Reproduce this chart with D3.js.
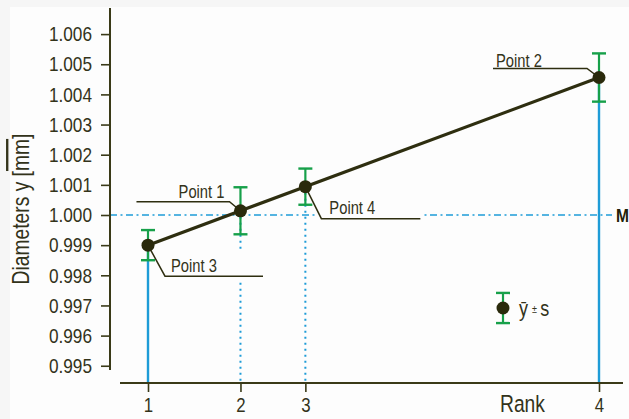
<!DOCTYPE html>
<html><head><meta charset="utf-8">
<script src="https://cdn.jsdelivr.net/npm/d3@7"></script>
<style>
html,body{margin:0;padding:0;background:#f6f6f6;}
svg{display:block;}
text{font-family:"Liberation Sans Narrow","Arial Narrow","Liberation Sans",Arial,sans-serif;fill:#33331a;}
</style></head>
<body>
<svg id="chart" width="629" height="419"></svg>
<script>
// ---- data ----
const pointNames = ["Point 3", "Point 1", "Point 4", "Point 2"];
const ranks = [1, 2, 3, 4];
const means = [0.99900, 1.00014, 1.00094, 1.00456];
const sds = [0.00050, 0.00078, 0.00060, 0.00080];
const yTicks = [0.995, 0.996, 0.997, 0.998, 0.999, 1.000, 1.001, 1.002, 1.003, 1.004, 1.005, 1.006];
const meanLevel = 1.000;
const legendSd = 0.00050;
const yLabel = "Diameters y [";
const yUnit = "mm";
const xLabel = "Rank";

// ---- layout ----
const W = 629, H = 419;
const K = 0.82; // horizontal condensing of text (narrow face emulation)
const svg = d3.select("#chart");
const colAxis = "#3a3a18", colLine = "#2e2e10", colGreen = "#17a04a", colBlue = "#1e9cd7";
const y = d3.scaleLinear().domain([0.995, 1.006]).range([365.75, 34.1]);
const x = d3.scaleLinear().domain([0.999, 1.00456]).range([148, 599]);
const axisX0 = 110, axisY0 = 383;
const yAxisTop = 8, yAxisBottom = 370;
const xAxisLeft = 120, xAxisRight = 623;
const labelLayout = {
  "Point 3": {ex: 17, ey: 31, hx: 115, tx: 23, ty: 26.7, anchor: "start"},
  "Point 1": {ex: -11, ey: -9, hx: -104, tx: -16, ty: -13, anchor: "end"},
  "Point 4": {ex: 16, ey: 32, hx: 115, tx: 24, ty: 27.6, anchor: "start"},
  "Point 2": {ex: -12, ey: -9, hx: -106, tx: -103, ty: -11, anchor: "start"}
};

function narrow(sel) {
  sel.each(function () {
    const t = d3.select(this);
    const x0 = +t.attr("x") || 0;
    const tr = t.attr("transform") || "";
    t.attr("x", x0 / K).attr("transform", (tr + ` scale(${K},1)`).trim());
  });
  return sel;
}

const data = pointNames.map((n, i) => ({name: n, rank: ranks[i], mean: means[i], sd: sds[i]}));

// background panel
svg.append("rect").attr("x", 10).attr("y", 7).attr("width", W - 10).attr("height", H - 7).attr("fill", "#fdfdfd");

// mean line
svg.append("line")
  .attr("x1", axisX0).attr("x2", 612)
  .attr("y1", y(meanLevel)).attr("y2", y(meanLevel))
  .attr("stroke", colBlue).attr("stroke-width", 1.6)
  .attr("stroke-dasharray", "7,3.5,2,3.5");
narrow(svg.append("text").attr("x", 616).attr("y", y(meanLevel)).attr("dy", "0.35em")
  .attr("font-size", 19).attr("font-weight", "bold").style("fill", "#222208").text("M"));

// vertical drop lines
data.forEach((d, i) => {
  const solid = (i === 0 || i === data.length - 1);
  svg.append("line")
    .attr("x1", x(d.mean)).attr("x2", x(d.mean))
    .attr("y1", y(d.mean)).attr("y2", axisY0)
    .attr("stroke", colBlue)
    .attr("stroke-width", solid ? 2.4 : 2)
    .attr("stroke-dasharray", solid ? null : "2,4");
});

// point labels (with white backgrounds)
data.forEach(d => {
  const L = labelLayout[d.name];
  const px = x(d.mean), py = y(d.mean);
  const g = svg.append("g");
  const bg = g.append("rect").attr("fill", "#fdfdfd");
  const t = g.append("text")
    .attr("x", px + L.tx).attr("y", py + L.ty)
    .attr("text-anchor", L.anchor).attr("font-size", 18).text(d.name);
  narrow(t);
  const ex = px + L.ex, ey = py + L.ey, hx = px + L.hx;
  const bb = t.node().getBBox();
  const bx0 = bb.x * K, bx1 = (bb.x + bb.width) * K;
  const x0 = Math.min(ex, hx, bx0), x1 = Math.max(ex, hx, bx1);
  const y0 = Math.min(bb.y, ey), y1 = Math.max(bb.y + bb.height, ey);
  bg.attr("x", x0 - 4).attr("y", y0 - 6).attr("width", x1 - x0 + 6).attr("height", y1 - y0 + 9);
  g.append("polyline")
    .attr("points", [[px, py], [ex, ey], [hx, ey]].map(p => p.join(",")).join(" "))
    .attr("fill", "none").attr("stroke", colLine).attr("stroke-width", 1.5);
});

// regression line
svg.append("path")
  .datum([data[0], data[data.length - 1]])
  .attr("d", d3.line().x(d => x(d.mean)).y(d => y(d.mean)))
  .attr("fill", "none").attr("stroke", colLine).attr("stroke-width", 3.2);

// error bars
function errorBar(g, cx, m, s) {
  g.append("line").attr("x1", cx).attr("x2", cx).attr("y1", y(m + s)).attr("y2", y(m - s))
    .attr("stroke", colGreen).attr("stroke-width", 2.2);
  [m + s, m - s].forEach(v => g.append("line")
    .attr("x1", cx - 7).attr("x2", cx + 7).attr("y1", y(v)).attr("y2", y(v))
    .attr("stroke", colGreen).attr("stroke-width", 2.4));
}
data.forEach(d => errorBar(svg, x(d.mean), d.mean, d.sd));

// points
svg.selectAll("circle.pt").data(data).enter().append("circle")
  .attr("class", "pt")
  .attr("cx", d => x(d.mean)).attr("cy", d => y(d.mean)).attr("r", 6.5)
  .attr("fill", "#2a2a0c");

// y axis
const gy = svg.append("g").attr("transform", `translate(${axisX0},0)`)
  .call(d3.axisLeft(y).tickValues(yTicks).tickSize(9).tickPadding(9).tickFormat(d3.format(".3f")));
gy.select(".domain").remove();
gy.selectAll(".tick line").attr("stroke", colAxis).attr("stroke-width", 1.6);
narrow(gy.selectAll(".tick text").attr("font-size", 21).attr("font-family", null).style("fill", "#33331a"));
svg.append("line").attr("x1", axisX0).attr("x2", axisX0).attr("y1", yAxisTop).attr("y2", yAxisBottom)
  .attr("stroke", colAxis).attr("stroke-width", 2);

// x axis
const gx = svg.append("g").attr("transform", `translate(0,${axisY0})`)
  .call(d3.axisBottom(x).tickValues(means).tickSize(9).tickPadding(5.5).tickFormat((d, i) => ranks[i]));
gx.select(".domain").remove();
gx.selectAll(".tick line").attr("stroke", colAxis).attr("stroke-width", 1.6);
narrow(gx.selectAll(".tick text").attr("font-size", 20.5).attr("font-family", null).style("fill", "#33331a"));
svg.append("line").attr("x1", xAxisLeft).attr("x2", xAxisRight).attr("y1", axisY0).attr("y2", axisY0)
  .attr("stroke", colAxis).attr("stroke-width", 2);

// axis titles
narrow(svg.append("text").attr("x", 500).attr("y", 411.7).attr("font-size", 23.5).text(xLabel));
const yt = svg.append("text").attr("transform", "translate(29,209) rotate(-90)")
  .attr("text-anchor", "middle").attr("font-size", 23.5);
yt.append("tspan").text(yLabel);
yt.append("tspan").style("text-decoration", "overline").text(yUnit);
yt.append("tspan").text("]");
narrow(yt);

// legend
const lg = svg.append("g");
const lx = 503, lyVal = y.invert(308);
errorBar(lg, lx, lyVal, legendSd);
lg.append("circle").attr("cx", lx).attr("cy", y(lyVal)).attr("r", 6.5).attr("fill", "#2a2a0c");
const lt = lg.append("text").attr("x", 519).attr("y", 316.5).attr("font-size", 22);
lt.append("tspan").text("ȳ");
lt.append("tspan").attr("font-size", 11).attr("dx", 5).attr("dy", -3).text("±");
lt.append("tspan").attr("dx", 4).attr("dy", 3).text("s");
narrow(lt);
</script>
</body></html>
